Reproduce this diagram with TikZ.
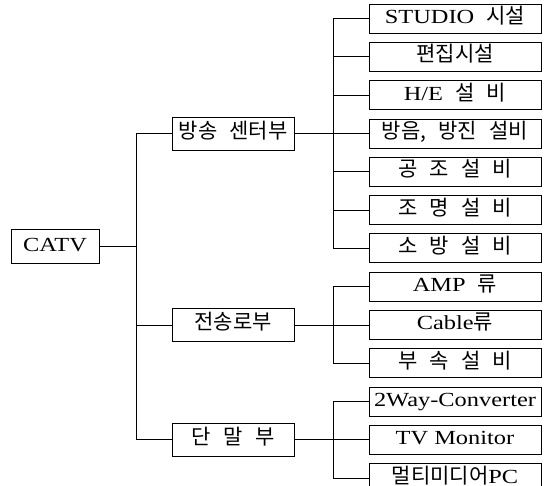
\documentclass[tikz,border=0pt]{standalone}
\usepackage{fontspec}
\setmainfont[FakeStretch=1.22]{Liberation Serif}
\newfontfamily\kr[Scale=1.05,WordSpace=2.6]{Noto Sans CJK KR}
\newcommand{\kor}[1]{{\kr #1}}
\usepackage{tikz}
\usetikzlibrary{positioning}

\begin{document}
\begin{tikzpicture}[
  leaf/.style={draw, line width=0.8pt, minimum width=172pt, minimum height=29pt,
               inner sep=0pt, text height=14pt, text depth=4pt},
  mid/.style={draw, line width=0.8pt, minimum width=122pt, minimum height=33pt,
              inner sep=0pt, text height=14pt, text depth=4pt},
  wire/.style={line width=0.8pt},
  every node/.style={font=\fontsize{20}{23}\selectfont}
]
  \useasboundingbox (0,0) rectangle (546pt,-485pt);

  % right column
  \node[leaf] (studio) at (455pt,-18.5pt) {STUDIO\kor{ 시설}};
  \node[leaf, below=8.5pt of studio] (edit) {\kor{편집시설}};
  \node[leaf, below=8.5pt of edit] (he) {H/E\kor{ 설 비}};
  \node[leaf, below=8.5pt of he] (noise) {\kor{방음, 방진 설비}};
  \node[leaf, below=8.5pt of noise] (air) {\kor{공 조 설 비}};
  \node[leaf, below=8.5pt of air] (light) {\kor{조 명 설 비}};
  \node[leaf, below=8.5pt of light] (fire) {\kor{소 방 설 비}};
  \node[leaf, below=8.5pt of fire] (amp) {AMP\kor{ 류}};
  \node[leaf, below=8.5pt of amp] (cable) {Cable\kor{류}};
  \node[leaf, below=8.5pt of cable] (acc) {\kor{부 속 설 비}};
  \node[leaf, below=8.5pt of acc] (conv) {2Way-Converter};
  \node[leaf, below=8.5pt of conv] (tv) {TV Monitor};
  \node[leaf, below=8.5pt of tv] (mmpc) {\kor{멀티미디어}PC};

  % middle column
  \node[mid, left=74pt of noise] (bcast) {\kor{방송 센터부}};
  \node[mid, left=74pt of cable] (trans) {\kor{전송로부}};
  \node[mid, left=74pt of tv] (term) {\kor{단 말 부}};

  \node[mid, minimum width=88pt, minimum height=34pt] (catv) at (55pt,-246pt) {CATV};

  \coordinate (t0) at (136pt,0);
  \coordinate (t1) at (333pt,0);

  % root
  \draw[wire] (catv.east) -- (catv.east -| t0);
  \draw[wire] (bcast.west) -- (bcast.west -| t0) -- (term.west -| t0) -- (term.west);
  \draw[wire] (trans.west) -- (trans.west -| t0);

  % broadcasting centre
  \draw[wire] (studio.west) -- (studio.west -| t1) -- (fire.west -| t1) -- (fire.west);
  \draw[wire] (bcast.east) -- (noise.west);
  \draw[wire] (edit.west) -- (edit.west -| t1);
  \draw[wire] (he.west) -- (he.west -| t1);
  \draw[wire] (air.west) -- (air.west -| t1);
  \draw[wire] (light.west) -- (light.west -| t1);

  % transmission
  \draw[wire] (amp.west) -- (amp.west -| t1) -- (acc.west -| t1) -- (acc.west);
  \draw[wire] (trans.east) -- (cable.west);

  % terminal
  \draw[wire] (conv.west) -- (conv.west -| t1) -- (mmpc.west -| t1) -- (mmpc.west);
  \draw[wire] (term.east) -- (tv.west);
\end{tikzpicture}
\end{document}
